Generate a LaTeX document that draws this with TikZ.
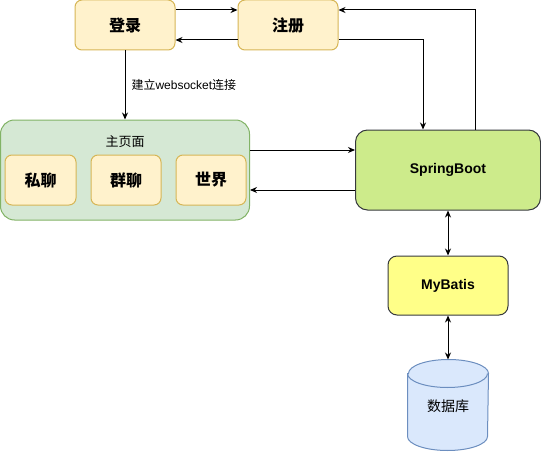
\documentclass[tikz,border=0pt]{standalone}
\usepackage{fontspec}
\setmainfont{Liberation Sans}
\newfontfamily\cjk{Noto Sans CJK SC}
\usetikzlibrary{arrows.meta}
\definecolor{page}{HTML}{fff2cc}
\definecolor{pageline}{HTML}{d6b656}
\definecolor{home}{HTML}{d5e8d4}
\definecolor{homeline}{HTML}{82b366}
\definecolor{boot}{HTML}{cdeb8b}
\definecolor{mapper}{HTML}{ffff88}
\definecolor{darkline}{HTML}{36393d}
\definecolor{db}{HTML}{dae8fc}
\definecolor{dbline}{HTML}{6c8ebf}

\begin{document}
\begin{tikzpicture}[
    x=1pt, y=-1pt, line width=1pt,
    pagebox/.style={draw=pageline, fill=page, rounded corners=7pt,
      minimum width=100pt, minimum height=50pt,
      font=\cjk\bfseries\fontsize{16}{18}\selectfont},
    chatbox/.style={pagebox, minimum width=70pt},
    arr/.style={-{Stealth[length=7pt,width=6pt]}},
    twoarr/.style={{Stealth[length=7pt,width=6pt]}-{Stealth[length=7pt,width=6pt]}}
  ]
  \useasboundingbox (0,0) rectangle (541,452);
  % pages
  \node[pagebox] (login) at (125,25) {登录};
  \node[pagebox] (reg) at (288,25) {注册};
  \node[draw=homeline, fill=home, rounded corners=14pt,
    minimum width=249pt, minimum height=100pt] (home) at (125,170) {};
  \node[font=\cjk\fontsize{13}{15}\selectfont] (title) at (125,142) {主页面};
  \node[chatbox, minimum width=71pt] (private) at (40.5,180) {私聊};
  \node[chatbox] (group) at (126,180) {群聊};
  \node[chatbox] (world) at (211,180) {世界};
  % backend
  \node[draw=darkline, fill=boot, rounded corners=12pt,
    minimum width=185pt, minimum height=80pt,
    font=\bfseries\fontsize{14}{16}\selectfont] (boot) at (448,170) {SpringBoot};
  \node[draw=darkline, fill=mapper, rounded corners=9pt,
    minimum width=120pt, minimum height=59pt,
    font=\bfseries\fontsize{14}{16}\selectfont] (mybatis) at (448,285.5) {MyBatis};
  \node[minimum width=80pt, minimum height=90pt, inner sep=0pt] (db) at (448,405) {};
  \draw[draw=dbline, fill=db] ([yshift=-14pt]db.north west) -- ([yshift=14pt]db.south west)
    arc[start angle=180, end angle=360, x radius=40pt, y radius=14pt]
    -- ([yshift=-14pt]db.north east)
    arc[start angle=0, end angle=180, x radius=40pt, y radius=14pt] -- cycle;
  \draw[draw=dbline] ([yshift=-14pt]db.north west)
    arc[start angle=180, end angle=360, x radius=40pt, y radius=14pt];
  \node[font=\cjk\fontsize{14}{16}\selectfont] at (448,406) {数据库};
  % connectors
  \draw[arr] ([yshift=15pt]login.east) -- ([yshift=15pt]reg.west);
  \draw[arr] ([yshift=-15pt]reg.west) -- ([yshift=-15pt]login.east);
  \draw[arr] (login.south) -- node[right, xshift=6pt, inner sep=0pt,
    font=\fontsize{12}{14}\selectfont] {{\cjk 建立}websocket{\cjk 连接}} (home.north);
  \draw[arr] ([yshift=20pt]home.east) -- ([yshift=20pt]boot.west);
  \draw[arr] ([yshift=-20pt]boot.west) -- ([yshift=-20pt]home.east);
  \draw[arr] ([yshift=-15pt]reg.east) -| ([xshift=-25pt]boot.north);
  \draw[arr] ([xshift=27pt]boot.north) |- ([yshift=15pt]reg.east);
  \draw[twoarr] (boot.south) -- (mybatis.north);
  \draw[twoarr] (mybatis.south) -- (db.north);
\end{tikzpicture}
\end{document}
